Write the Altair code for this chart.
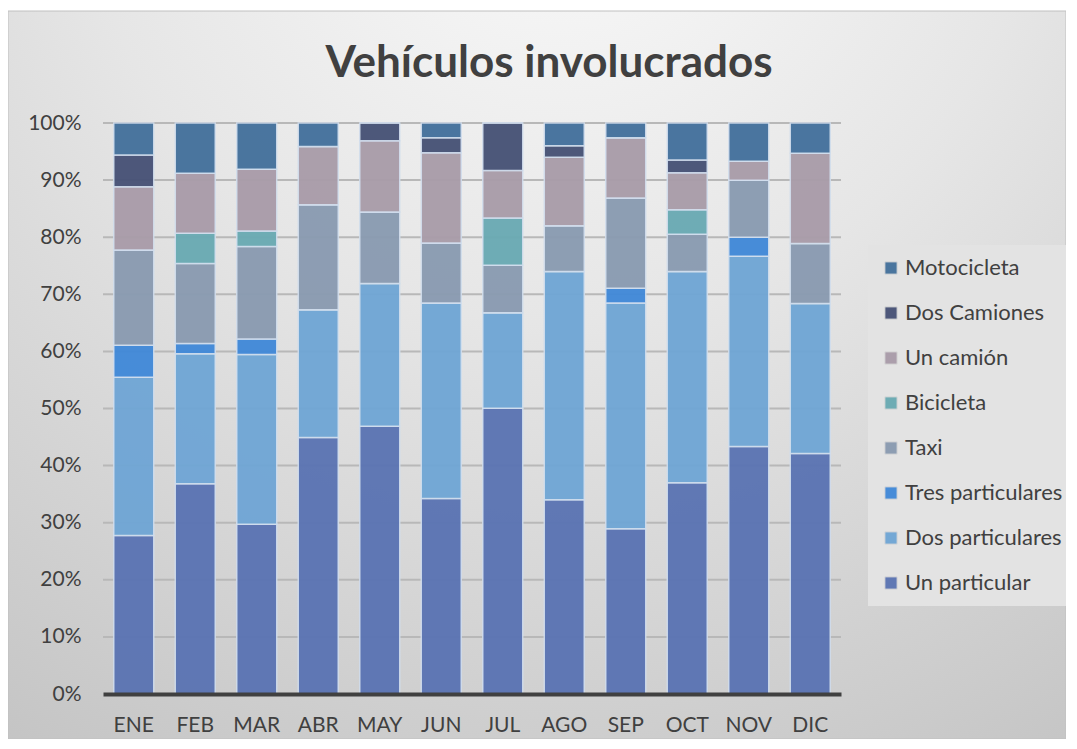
import altair as alt
import pandas as pd

months = ["ENE", "FEB", "MAR", "ABR", "MAY", "JUN", "JUL", "AGO", "SEP", "OCT", "NOV", "DIC"]

# percentage share of each vehicle type per month
un_particular = [27.8, 36.8, 29.7, 44.9, 46.9, 34.2, 50.0, 34.0, 28.9, 37.0, 43.3, 42.1]
dos_particulares = [27.8, 22.8, 29.7, 22.4, 25.0, 34.2, 16.7, 40.0, 39.5, 37.0, 33.3, 26.3]
tres_particulares = [5.6, 1.8, 2.7, 0.0, 0.0, 0.0, 0.0, 0.0, 2.6, 0.0, 3.3, 0.0]
taxi = [16.7, 14.0, 16.2, 18.4, 12.5, 10.5, 8.3, 8.0, 15.8, 6.5, 10.0, 10.5]
bicicleta = [0.0, 5.3, 2.7, 0.0, 0.0, 0.0, 8.3, 0.0, 0.0, 4.3, 0.0, 0.0]
un_camion = [11.1, 10.5, 10.8, 10.2, 12.5, 15.8, 8.3, 12.0, 10.5, 6.5, 3.3, 15.8]
dos_camiones = [5.6, 0.0, 0.0, 0.0, 3.1, 2.6, 8.3, 2.0, 0.0, 2.2, 0.0, 0.0]
motocicleta = [5.6, 8.8, 8.1, 4.1, 0.0, 2.6, 0.0, 4.0, 2.6, 6.5, 6.7, 5.3]

series_names = ["Un particular", "Dos particulares", "Tres particulares", "Taxi",
                "Bicicleta", "Un camión", "Dos Camiones", "Motocicleta"]
series_values = [un_particular, dos_particulares, tres_particulares, taxi,
                 bicicleta, un_camion, dos_camiones, motocicleta]
series_colors = ["#5b74b3", "#70a6d5", "#4189d8", "#8a9bb1",
                 "#6aaab3", "#a99ca9", "#475276", "#44719c"]

title_text = "Vehículos involucrados"
y_ticks = [i / 10 for i in range(11)]

rows = []
for si, (name, vals) in enumerate(zip(series_names, series_values)):
    for m, v in zip(months, vals):
        rows.append({"Mes": m, "Tipo": name, "Valor": v, "orden": si})
df = pd.DataFrame(rows)
grid_df = pd.DataFrame({"g": y_ticks[1:]})

FONT = "Lato"
TEXT = "#404040"

W, H = 738, 571
PL, PT, PR, PB = 95, 115, 225, 45

bg = alt.Chart(pd.DataFrame({"k": [0]})).mark_rect(
    fill=alt.RadialGradient(
        gradient="radial",
        x1=0.52, y1=0.0, r1=0.0,
        x2=0.52, y2=0.0, r2=1.0,
        stops=[
            alt.GradientStop(offset=0.0, color="#fbfbfb"),
            alt.GradientStop(offset=0.45, color="#e6e6e6"),
            alt.GradientStop(offset=1.0, color="#c4c4c4"),
        ],
    ),
    stroke="#c0c0c0",
    strokeWidth=1,
).encode(
    x=alt.value(-PL), x2=alt.value(W + PR),
    y=alt.value(-PT + 3), y2=alt.value(H + PB),
)

title = alt.Chart(pd.DataFrame({"t": [title_text]})).mark_text(
    font=FONT, fontSize=44, fontWeight="bold", color=TEXT,
    align="center", baseline="alphabetic",
).encode(
    text="t:N",
    x=alt.value(446), y=alt.value(-46),
)

grid = alt.Chart(grid_df).mark_rule(color="#b8b8b8", strokeWidth=2).encode(
    y=alt.Y("g:Q"),
    x=alt.value(0), x2=alt.value(W),
)

bars = alt.Chart(df).mark_bar(
    stroke="#d3dfee", strokeWidth=1.5, strokeOpacity=0.9, opacity=0.96
).encode(
    x=alt.X("Mes:N", sort=months,
            scale=alt.Scale(paddingInner=0.35, paddingOuter=0.175),
            axis=alt.Axis(title=None, labelAngle=0, labelFont=FONT, labelFontSize=21,
                          labelColor=TEXT, labelPadding=20, ticks=False, grid=False,
                          domainColor="#404040", domainWidth=4, zindex=1)),
    y=alt.Y("Valor:Q", stack="normalize",
            scale=alt.Scale(domain=[0, 1], nice=False),
            axis=alt.Axis(title=None, format=".0%", values=y_ticks,
                          labelFont=FONT, labelFontSize=21, labelColor=TEXT,
                          labelPadding=22, ticks=False, domain=False, grid=False,
                          zindex=1)),
    color=alt.Color("Tipo:N",
                    scale=alt.Scale(domain=series_names[::-1], range=series_colors[::-1]),
                    legend=alt.Legend(orient="none", legendX=765, legendY=122,
                                      title=None, fillColor="#e3e3e3", padding=12,
                                      symbolType="square", symbolSize=150,
                                      symbolStrokeColor="#d8d8d8", symbolStrokeWidth=1,
                                      labelFont=FONT, labelFontSize=22, labelColor=TEXT,
                                      labelOffset=3, rowPadding=23, labelLimit=300)),
    order=alt.Order("orden:Q", sort="ascending"),
)

chart = alt.layer(bg, title, grid, bars).properties(
    width=W, height=H,
    autosize=alt.AutoSizeParams(type="none"),
    padding={"left": PL, "top": PT, "right": PR, "bottom": PB},
    background="#ffffff",
).configure_view(stroke=None)

chart.save("out.html", embed_options={"renderer": "svg", "actions": False})
